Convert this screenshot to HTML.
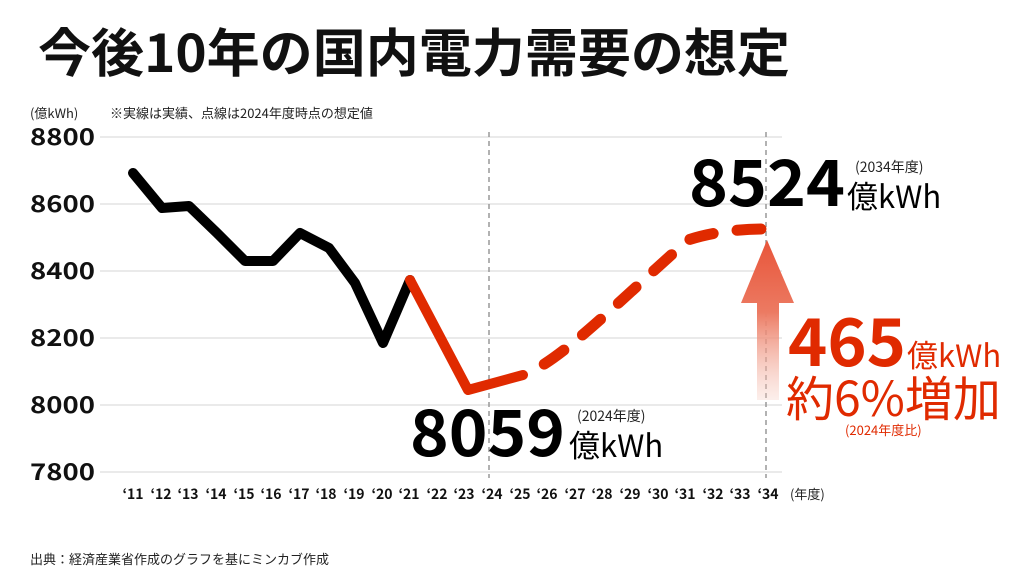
<!DOCTYPE html>
<html><head><meta charset="utf-8"><style>
html,body{margin:0;padding:0;background:#fff;}
svg{display:block;font-family:"Noto Sans CJK JP","Liberation Sans",sans-serif;}
</style></head><body>
<svg width="1024" height="576" viewBox="0 0 1024 576">
<defs>
<linearGradient id="ag" x1="0" y1="0" x2="0" y2="1">
<stop offset="0" stop-color="#e8553a"/><stop offset="0.45" stop-color="#ec7a62"/><stop offset="1" stop-color="#f6c8bc" stop-opacity="0.3"/>
</linearGradient>
</defs>
<text x="38" y="72" font-size="52" font-weight="bold" fill="#111" textLength="752" lengthAdjust="spacingAndGlyphs">今後10年の国内電力需要の想定</text>
<text x="30" y="118" font-size="13" fill="#222">(億kWh)</text>
<text x="110" y="118" font-size="13" fill="#222">※実線は実績、点線は2024年度時点の想定値</text>
<g stroke="#e3e3e3" stroke-width="1.5">
<line x1="100" y1="137" x2="782" y2="137"/><line x1="100" y1="204" x2="782" y2="204"/><line x1="100" y1="271" x2="782" y2="271"/><line x1="100" y1="338" x2="782" y2="338"/><line x1="100" y1="405" x2="782" y2="405"/><line x1="100" y1="472" x2="782" y2="472"/>
</g>
<g font-size="23" font-weight="bold" fill="#111">
<text x="30" y="145" textLength="65" lengthAdjust="spacingAndGlyphs">8800</text><text x="30" y="212" textLength="65" lengthAdjust="spacingAndGlyphs">8600</text><text x="30" y="279" textLength="65" lengthAdjust="spacingAndGlyphs">8400</text><text x="30" y="346" textLength="65" lengthAdjust="spacingAndGlyphs">8200</text><text x="30" y="413" textLength="65" lengthAdjust="spacingAndGlyphs">8000</text><text x="30" y="480" textLength="65" lengthAdjust="spacingAndGlyphs">7800</text>
</g>
<g stroke="#999" stroke-width="1.5" stroke-dasharray="5,4">
<line x1="489" y1="132" x2="489" y2="478"/><line x1="766" y1="132" x2="766" y2="478"/>
</g>
<polyline points="133,173 162,208 189,206 217,233 245,261 273,261 300,233 329,248 355,283 383,343 410,280" fill="none" stroke="#000" stroke-width="10" stroke-linejoin="round" stroke-linecap="round"/>
<polyline points="410,280 468,390 523,375" fill="none" stroke="#e02a00" stroke-width="10" stroke-linejoin="round" stroke-linecap="round"/>
<path d="M523,375 C560,362 620,300 688,240 C712,232 740,229 763,229" fill="none" stroke="#e02a00" stroke-width="11" stroke-linecap="round" stroke-dasharray="24,24" stroke-dashoffset="-24"/>
<polygon points="767,240 794,303 779,303 779,400 757,400 757,303 741,303" fill="url(#ag)"/>
<g font-size="14" font-weight="bold" fill="#111" text-anchor="middle">
<text x="133" y="499">‘11</text><text x="161" y="499">‘12</text><text x="188" y="499">‘13</text><text x="216" y="499">‘14</text><text x="244" y="499">‘15</text><text x="271" y="499">‘16</text><text x="299" y="499">‘17</text><text x="326" y="499">‘18</text><text x="354" y="499">‘19</text><text x="382" y="499">‘20</text><text x="409" y="499">‘21</text><text x="437" y="499">‘22</text><text x="464" y="499">‘23</text><text x="492" y="499">‘24</text><text x="520" y="499">‘25</text><text x="547" y="499">‘26</text><text x="575" y="499">‘27</text><text x="602" y="499">‘28</text><text x="630" y="499">‘29</text><text x="658" y="499">‘30</text><text x="685" y="499">‘31</text><text x="713" y="499">‘32</text><text x="740" y="499">‘33</text><text x="768" y="499">‘34</text>
</g>
<text x="790" y="499" font-size="13" fill="#222">(年度)</text>
<text x="689" y="206" font-size="64" font-weight="bold" fill="#000" textLength="156" lengthAdjust="spacingAndGlyphs">8524</text>
<text x="855" y="172" font-size="14" fill="#222">(2034年度)</text>
<text x="847" y="208" font-size="31" fill="#000">億kWh</text>
<text x="410" y="456" font-size="64" font-weight="bold" fill="#000" textLength="155" lengthAdjust="spacingAndGlyphs">8059</text>
<text x="577" y="421" font-size="14" fill="#222">(2024年度)</text>
<text x="569" y="457" font-size="31" fill="#000">億kWh</text>
<text x="788" y="366" font-size="66" font-weight="bold" fill="#e02a00" textLength="118" lengthAdjust="spacingAndGlyphs">465</text>
<text x="907" y="367" font-size="31" fill="#e02a00">億kWh</text>
<text x="786" y="416" font-size="48" fill="#e02a00">約6%増加</text>
<text x="845" y="435" font-size="13" fill="#e02a00">(2024年度比)</text>
<text x="30" y="564" font-size="13" fill="#222">出典：経済産業省作成のグラフを基にミンカブ作成</text>
</svg>
</body></html>
